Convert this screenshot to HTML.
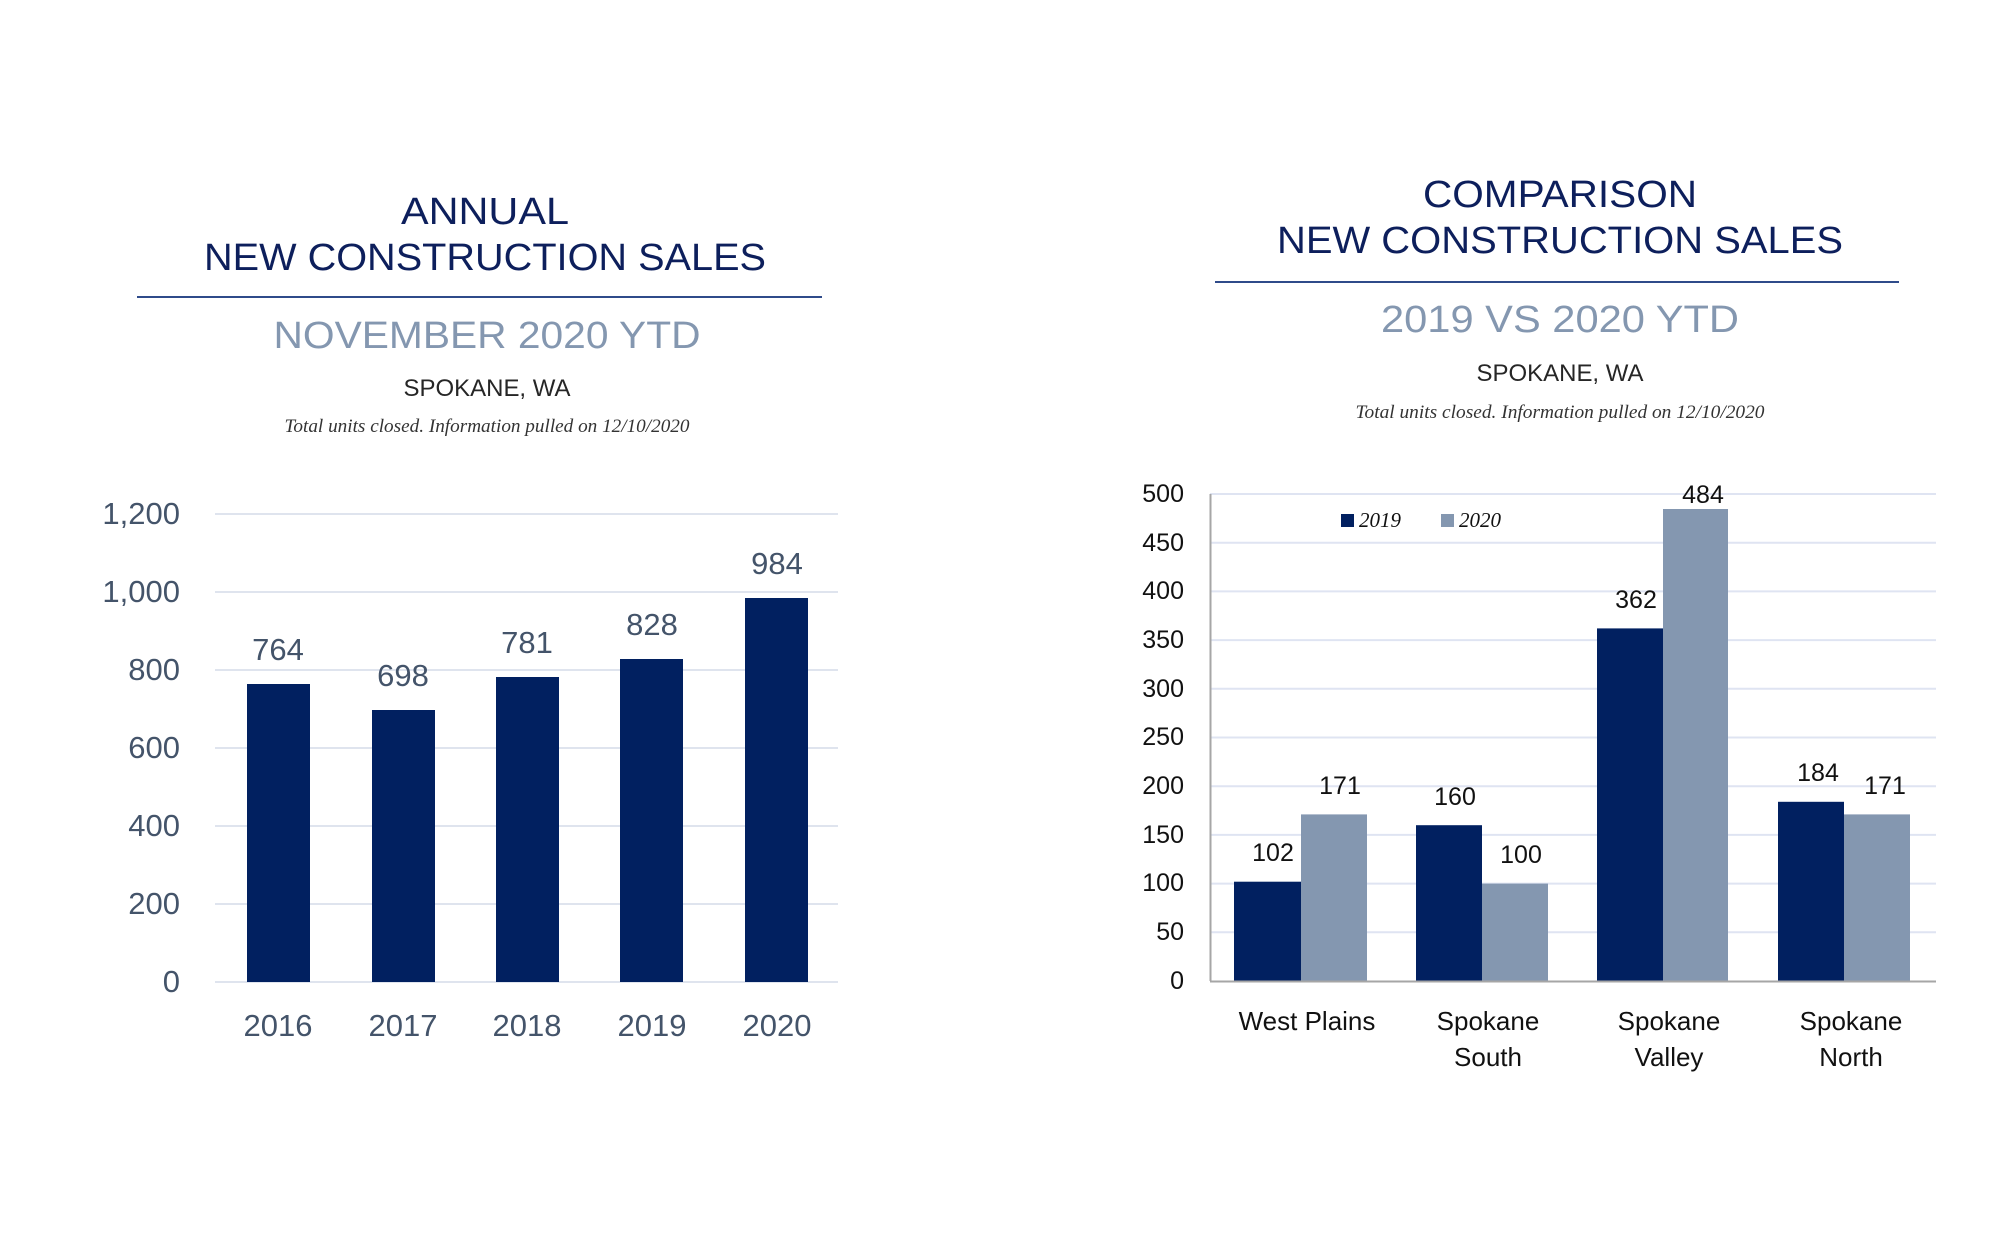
<!DOCTYPE html>
<html><head><meta charset="utf-8"><style>
html,body{margin:0;padding:0;background:#fff;}
svg{display:block;}
</style></head><body>
<svg width="2000" height="1250" viewBox="0 0 2000 1250" xmlns="http://www.w3.org/2000/svg" font-family="Liberation Sans, sans-serif">
<rect width="2000" height="1250" fill="#fff"/>
<!-- LEFT HEADER -->
<g text-anchor="middle">
<text x="485" y="224" font-size="38" fill="#0d1f5c" textLength="168" lengthAdjust="spacingAndGlyphs">ANNUAL</text>
<text x="485" y="270" font-size="38" fill="#0d1f5c" textLength="562" lengthAdjust="spacingAndGlyphs">NEW CONSTRUCTION SALES</text>
<text x="487" y="348" font-size="38" fill="#8497b0" textLength="427" lengthAdjust="spacingAndGlyphs">NOVEMBER 2020 YTD</text>
<text x="487" y="396" font-size="24" fill="#262626" textLength="167" lengthAdjust="spacingAndGlyphs">SPOKANE, WA</text>
<text x="487" y="432" font-size="19" font-style="italic" font-family="Liberation Serif, serif" fill="#333" textLength="405" lengthAdjust="spacingAndGlyphs">Total units closed.  Information pulled on 12/10/2020</text>
</g>
<rect x="137" y="296" width="685" height="2" fill="#2f4b8a"/>
<!-- LEFT CHART -->
<g stroke="#dfe4ee" stroke-width="2">
<line x1="215" y1="514" x2="838" y2="514"/>
<line x1="215" y1="592" x2="838" y2="592"/>
<line x1="215" y1="670" x2="838" y2="670"/>
<line x1="215" y1="748" x2="838" y2="748"/>
<line x1="215" y1="826" x2="838" y2="826"/>
<line x1="215" y1="904" x2="838" y2="904"/>
<line x1="215" y1="982" x2="838" y2="982"/>
</g>
<g font-size="31" fill="#44546a" text-anchor="end">
<text x="180" y="524">1,200</text>
<text x="180" y="602">1,000</text>
<text x="180" y="680">800</text>
<text x="180" y="758">600</text>
<text x="180" y="836">400</text>
<text x="180" y="914">200</text>
<text x="180" y="992">0</text>
</g>
<g fill="#012060">
<rect x="247" y="684" width="63" height="298"/>
<rect x="372" y="710" width="63" height="272"/>
<rect x="496" y="677" width="63" height="305"/>
<rect x="620" y="659" width="63" height="323"/>
<rect x="745" y="598" width="63" height="384"/>
</g>
<g font-size="31" fill="#44546a" text-anchor="middle">
<text x="278" y="660">764</text>
<text x="403" y="686">698</text>
<text x="527" y="653">781</text>
<text x="652" y="635">828</text>
<text x="777" y="574">984</text>
<text x="278" y="1036">2016</text>
<text x="403" y="1036">2017</text>
<text x="527" y="1036">2018</text>
<text x="652" y="1036">2019</text>
<text x="777" y="1036">2020</text>
</g>
<!-- RIGHT HEADER -->
<g text-anchor="middle">
<text x="1560" y="207" font-size="38" fill="#0d1f5c" textLength="274" lengthAdjust="spacingAndGlyphs">COMPARISON</text>
<text x="1560" y="253" font-size="38" fill="#0d1f5c" textLength="566" lengthAdjust="spacingAndGlyphs">NEW CONSTRUCTION SALES</text>
<text x="1560" y="332" font-size="38" fill="#8497b0" textLength="358" lengthAdjust="spacingAndGlyphs">2019 VS 2020 YTD</text>
<text x="1560" y="381" font-size="24" fill="#262626" textLength="167" lengthAdjust="spacingAndGlyphs">SPOKANE, WA</text>
<text x="1560" y="418" font-size="19" font-style="italic" font-family="Liberation Serif, serif" fill="#333" textLength="409" lengthAdjust="spacingAndGlyphs">Total units closed.  Information pulled on 12/10/2020</text>
</g>
<rect x="1215" y="281" width="684" height="2" fill="#2f4b8a"/>
<!-- RIGHT CHART -->
<g stroke="#dfe4f2" stroke-width="2">
<line x1="1210" y1="494" x2="1936" y2="494"/>
<line x1="1210" y1="542.7" x2="1936" y2="542.7"/>
<line x1="1210" y1="591.4" x2="1936" y2="591.4"/>
<line x1="1210" y1="640.1" x2="1936" y2="640.1"/>
<line x1="1210" y1="688.8" x2="1936" y2="688.8"/>
<line x1="1210" y1="737.5" x2="1936" y2="737.5"/>
<line x1="1210" y1="786.2" x2="1936" y2="786.2"/>
<line x1="1210" y1="834.9" x2="1936" y2="834.9"/>
<line x1="1210" y1="883.6" x2="1936" y2="883.6"/>
<line x1="1210" y1="932.3" x2="1936" y2="932.3"/>
</g>
<g font-size="25" fill="#111" text-anchor="end">
<text x="1184" y="502">500</text>
<text x="1184" y="551">450</text>
<text x="1184" y="599">400</text>
<text x="1184" y="648">350</text>
<text x="1184" y="697">300</text>
<text x="1184" y="745">250</text>
<text x="1184" y="794">200</text>
<text x="1184" y="843">150</text>
<text x="1184" y="891">100</text>
<text x="1184" y="940">50</text>
<text x="1184" y="989">0</text>
</g>
<g fill="#012060">
<rect x="1234" y="881.7" width="67" height="99.3"/>
<rect x="1416" y="825.2" width="66" height="155.8"/>
<rect x="1597" y="628.4" width="66" height="352.6"/>
<rect x="1778" y="801.8" width="66" height="179.2"/>
</g>
<g fill="#8497b0">
<rect x="1301" y="814.4" width="66" height="166.6"/>
<rect x="1482" y="883.6" width="66" height="97.4"/>
<rect x="1663" y="509" width="65" height="472"/>
<rect x="1844" y="814.4" width="66" height="166.6"/>
</g>
<line x1="1210.5" y1="494" x2="1210.5" y2="981" stroke="#a6a6a6" stroke-width="2"/>
<line x1="1210" y1="981.5" x2="1936" y2="981.5" stroke="#a6a6a6" stroke-width="2"/>
<rect x="1341" y="514" width="13" height="13" fill="#012060"/>
<rect x="1441" y="514" width="13" height="13" fill="#8497b0"/>
<g font-size="21" font-style="italic" font-family="Liberation Serif, serif" fill="#111">
<text x="1359" y="527">2019</text>
<text x="1459" y="527">2020</text>
</g>
<g font-size="25" fill="#111" text-anchor="middle">
<text x="1273" y="861">102</text>
<text x="1340" y="794">171</text>
<text x="1455" y="805">160</text>
<text x="1521" y="863">100</text>
<text x="1636" y="608">362</text>
<text x="1703" y="503">484</text>
<text x="1818" y="781">184</text>
<text x="1885" y="794">171</text>
</g>
<g font-size="26" fill="#111" text-anchor="middle">
<text x="1307" y="1030">West Plains</text>
<text x="1488" y="1030">Spokane</text>
<text x="1488" y="1066">South</text>
<text x="1669" y="1030">Spokane</text>
<text x="1669" y="1066">Valley</text>
<text x="1851" y="1030">Spokane</text>
<text x="1851" y="1066">North</text>
</g>
</svg>
</body></html>
